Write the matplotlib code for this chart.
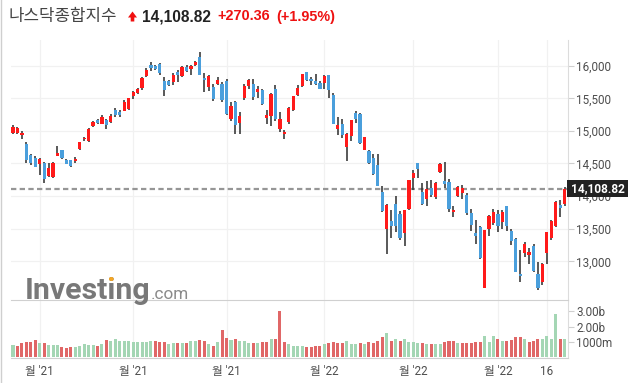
import matplotlib
matplotlib.use('Agg')
import matplotlib.pyplot as plt
from matplotlib.patches import Rectangle, Polygon
from matplotlib.lines import Line2D
from matplotlib.transforms import Bbox

# ---------------- data ----------------
opens = [14972, 14975, 14935, 14800, 14626, 14580, 14492, 14503, 14313, 14298,
         14620, 14707, 14547, 14547, 14543, 14727, 14871, 14850, 15075, 15167,
         15106, 15167, 15136, 15320, 15295, 15310, 15330, 15535, 15586, 15663,
         15842, 16011, 15992, 16026, 15765, 15765, 15755, 15903, 15847, 15980,
         15955, 16011, 16129, 15811, 15678, 15673, 15719, 15719, 15765, 15183,
         15443, 15126, 15509, 15693, 15719, 15597, 15627, 15202, 15229, 15643,
         15030, 14948, 15137, 15321, 15551, 15689, 15903, 15796, 15765, 15735,
         15735, 15857, 15551, 15029, 15106, 14758, 14926, 15270, 15259, 14712,
         14692, 14580, 14477, 14058, 13491, 13623, 13879, 13726, 13439, 13802,
         14282, 14508, 14068, 13956, 14124, 13986, 14374, 14232, 14216, 13761,
         14006, 14052, 14015, 13736, 13434, 13521, 12595, 13496, 13583, 13721,
         13607, 13849, 13465, 13337, 12810, 13123, 13097, 13240, 12805, 12687,
         13132, 13357, 13546, 13859, 13874]
highs = [15086, 15066, 14999, 14825, 14650, 14615, 14583, 14518, 14514, 14523,
         14764, 14710, 14570, 14560, 14600, 14834, 14910, 15040, 15150, 15180,
         15240, 15183, 15260, 15350, 15320, 15470, 15510, 15612, 15665, 15830,
         15960, 16053, 16018, 16040, 15827, 15780, 15890, 15930, 15990, 16010,
         16010, 16070, 16212, 15893, 15860, 15720, 15830, 15750, 15800, 15450,
         15463, 15285, 15720, 15800, 15800, 15684, 15650, 15320, 15581, 15700,
         15285, 15014, 15360, 15540, 15700, 15880, 15905, 15820, 15870, 15760,
         15850, 15857, 15580, 15214, 15183, 14960, 15170, 15305, 15280, 14910,
         14700, 14640, 14646, 14150, 13874, 13787, 14000, 13770, 13787, 14250,
         14400, 14510, 14200, 14230, 14250, 14220, 14500, 14523, 14260, 13850,
         14160, 14175, 14050, 13800, 13633, 13540, 13480, 13711, 13800, 13790,
         13790, 13850, 13490, 13350, 13173, 13300, 13204, 13260, 12990, 12970,
         13450, 13630, 13920, 13940, 14140]
lows = [14952, 14950, 14871, 14512, 14481, 14446, 14330, 14201, 14291, 14273,
        14610, 14569, 14485, 14440, 14500, 14712, 14850, 14835, 15060, 15110,
        15100, 15024, 15120, 15210, 15220, 15300, 15320, 15485, 15570, 15630,
        15830, 15914, 15935, 15850, 15535, 15695, 15700, 15745, 15830, 15905,
        15850, 15990, 15850, 15601, 15612, 15460, 15700, 15440, 15250, 15150,
        14953, 14952, 15480, 15640, 15480, 15505, 15390, 15101, 15075, 15150,
        14983, 14871, 15100, 15300, 15530, 15680, 15760, 15700, 15710, 15640,
        15650, 15505, 15100, 14938, 14887, 14543, 14850, 15121, 14800, 14700,
        14495, 14330, 14150, 13760, 13107, 13353, 13450, 13330, 13240, 13780,
        14094, 14270, 13860, 13850, 13990, 13950, 14360, 14129, 13760, 13680,
        13990, 13955, 13710, 13460, 13261, 13030, 12587, 13380, 13560, 13450,
        13500, 13470, 13250, 12830, 12678, 13060, 12954, 12830, 12555, 12640,
        12960, 13330, 13520, 13684, 13850]
closes = [15055, 15048, 14975, 14547, 14512, 14449, 14567, 14255, 14434, 14502,
          14654, 14580, 14486, 14466, 14572, 14823, 14897, 15022, 15129, 15122,
          15216, 15090, 15227, 15236, 15236, 15448, 15498, 15596, 15650, 15812,
          15940, 15972, 15955, 15887, 15623, 15704, 15861, 15854, 15974, 15922,
          15994, 16057, 15855, 15775, 15845, 15492, 15783, 15470, 15254, 15381,
          15090, 15225, 15687, 15787, 15525, 15635, 15417, 15240, 15566, 15183,
          15175, 14990, 15345, 15530, 15655, 15871, 15782, 15760, 15725, 15645,
          15840, 15623, 15106, 15085, 14940, 14945, 15160, 15188, 14810, 14900,
          14505, 14345, 14160, 13776, 13859, 13541, 13545, 13362, 13780, 14245,
          14355, 14418, 13884, 14105, 14017, 14198, 14490, 14190, 13795, 13790,
          14140, 14124, 13736, 13561, 13393, 13046, 13474, 13700, 13752, 13546,
          13757, 13546, 13316, 12840, 12770, 13260, 13143, 12856, 12595, 12959,
          13449, 13623, 13905, 13822, 14109]
volumes_b = [0.78, 0.72, 0.90, 1.00, 0.98, 1.12, 0.92, 0.95, 0.78, 0.78,
             0.78, 0.65, 0.62, 0.68, 0.65, 0.72, 0.85, 0.78, 0.78, 0.72,
             0.85, 1.12, 1.08, 1.18, 1.08, 1.08, 1.08, 1.00, 1.00, 1.00,
             1.00, 1.05, 1.05, 1.00, 1.00, 0.88, 0.95, 0.92, 0.95, 0.92,
             1.05, 1.05, 1.10, 1.05, 0.85, 0.75, 0.98, 1.75, 1.25, 1.10,
             1.20, 1.08, 1.08, 0.95, 0.90, 0.90, 1.00, 1.00, 1.20, 1.15,
             3.00, 1.00, 0.85, 0.75, 0.70, 0.72, 0.65, 0.65, 0.70, 0.70,
             0.85, 0.95, 1.00, 0.95, 0.90, 1.05, 0.88, 0.85, 0.90, 0.85,
             0.98, 0.90, 1.05, 1.30, 1.55, 1.08, 1.18, 1.08, 1.15, 0.98,
             1.00, 0.92, 0.95, 0.88, 0.85, 0.85, 0.88, 1.00, 1.05, 1.05,
             0.95, 0.90, 0.90, 0.95, 1.00, 1.00, 1.35, 1.00, 1.35, 1.20,
             1.05, 1.05, 1.10, 1.30, 1.30, 1.15, 0.98, 1.05, 1.15, 1.15,
             1.40, 1.15, 2.85, 1.15, 1.15]
prev_close = 14897
last_price = 14108.82
tick_idx = [6, 27, 48, 70, 90, 109, 120]
tick_labels = ["월 '21", "월 '21", "월 '21", "월 '22", "월 '22", "월 '22", "16"]
price_ticks = [13000, 13500, 14000, 14500, 15000, 15500, 16000]
vol_ticks = [1.0, 2.0, 3.0]
vol_tick_labels = ["1000m", "2.00b", "3.00b"]

# ---------------- layout ----------------
W, H = 633, 383
fig = plt.figure(figsize=(W / 100, H / 100), dpi=100)
fig.patch.set_facecolor('white')


def fx(x):
    return x / W


def fy(y):
    return 1 - y / H


L, R = 11, 568
axp = fig.add_axes([fx(L), fy(300), (R - L) / W, 260 / H])
axv = fig.add_axes([fx(L), fy(358), (R - L) / W, 58 / H])

n = len(closes)
xs = list(range(n))
xlim = (-0.45, 124.75)

RED = '#ff1a1a'
BLUE = '#4a9fdc'
WICK = '#2b2b2b'
GRID = '#f1f1f1'
TXT = '#4d4d4d'
tick_font = ['Roboto', 'Noto Sans CJK KR', 'DejaVu Sans']

# price panel
for i in xs:
    axp.vlines(i, lows[i], highs[i], color=WICK, lw=1.1, zorder=2)
body_bottom = [min(o, c) for o, c in zip(opens, closes)]
body_h = [max(abs(c - o), 18) for o, c in zip(opens, closes)]
body_col = [RED if c >= o else BLUE for o, c in zip(opens, closes)]
axp.bar(xs, body_h, bottom=body_bottom, width=0.72, color=body_col, zorder=3, linewidth=0)

axp.set_xlim(*xlim)
axp.set_ylim(12406, 16394)
axp.set_yticks(price_ticks)
axp.set_yticklabels([f"{v:,}" for v in price_ticks])
axp.yaxis.tick_right()
axp.tick_params(axis='y', length=4, width=0.8, color='#cfcfcf', pad=2,
                labelsize=8.4, labelcolor=TXT)
for lab in axp.get_yticklabels():
    lab.set_family(tick_font)
axp.set_xticks(tick_idx)
axp.tick_params(axis='x', length=0, labelbottom=False)
axp.grid(True, color=GRID, lw=0.9)
axp.set_axisbelow(True)
for s in ['left', 'top', 'bottom']:
    axp.spines[s].set_visible(False)
axp.spines['right'].set_color('#dcdcdc')
axp.axhline(last_price, color='#969696', lw=1.6, dashes=(2.4, 1.5), zorder=1.5)

# volume panel
vcol = []
pc = prev_close
for c in closes:
    vcol.append('#a4d6b4' if c >= pc else '#e06767')
    pc = c
axv.bar(xs, volumes_b, width=0.68, color=vcol, linewidth=0, zorder=2)
axv.set_xlim(*xlim)
axv.set_ylim(-0.07, 3.75)
axv.set_yticks(vol_ticks)
axv.set_yticklabels(vol_tick_labels)
axv.yaxis.tick_right()
axv.tick_params(axis='y', length=4, width=0.8, color='#cfcfcf', pad=2,
                labelsize=8.4, labelcolor=TXT)
axv.set_xticks(tick_idx)
axv.set_xticklabels(tick_labels)
axv.tick_params(axis='x', length=0, pad=5, labelsize=8.4, labelcolor=TXT)
for lab in axv.get_yticklabels() + axv.get_xticklabels():
    lab.set_family(tick_font)
axv.grid(True, axis='x', color=GRID, lw=0.9)
axv.set_axisbelow(True)
axv.spines['left'].set_visible(False)
axv.spines['top'].set_color('#d0d0d0')
axv.spines['bottom'].set_color('#d0d0d0')
axv.spines['right'].set_color('#dcdcdc')

# last price box
fig.patches.append(Rectangle((fx(567), fy(197)), 61 / W, 17 / H, transform=fig.transFigure,
                             facecolor='#222222', edgecolor='none', zorder=5))
fig.text(fx(597.5), fy(188.5), f"{last_price:,.2f}", color='white', fontsize=8.6,
         weight='bold', family=tick_font, ha='center', va='center', zorder=6)

# title
fig.text(fx(8), fy(16.5), "나스닥종합지수", fontsize=12.1, color='#444444',
         family=['Noto Sans CJK KR', 'DejaVu Sans'], va='center')
arrow = [(128, 17.5), (132.5, 11.5), (137, 17.5), (134.3, 17.5), (134.3, 21.5),
         (130.7, 21.5), (130.7, 17.5)]
fig.patches.append(Polygon([(fx(a), fy(b)) for a, b in arrow], closed=True,
                           transform=fig.transFigure, facecolor='#f01010', edgecolor='none'))
fig.text(fx(142), fy(16.5), "14,108.82", fontsize=11.2, weight='bold', color='#222222',
         family='Liberation Sans', va='center')
fig.text(fx(217), fy(16.5), "+270.36", fontsize=10.4, weight='bold', color='#ee1111',
         family='Liberation Sans', va='center')
fig.text(fx(276), fy(16.5), "(+1.95%)", fontsize=10.4, weight='bold', color='#ee1111',
         family='Liberation Sans', va='center')

# watermark logo
logo = fig.text(fx(25), fy(299), "Investing", fontsize=21.8, weight='bold', color='#787878',
                family='Roboto', va='baseline', ha='left', zorder=4)
fig.canvas.draw()
rend = fig.canvas.get_renderer()
bb = logo.get_window_extent(rend)
tmp1 = fig.text(fx(25), fy(299), "Invest", fontsize=21.8, weight='bold', family='Roboto',
                va='baseline', ha='left')
tmp2 = fig.text(fx(25), fy(299), "Investi", fontsize=21.8, weight='bold', family='Roboto',
                va='baseline', ha='left')
x1 = tmp1.get_window_extent(rend).x1
x2 = tmp2.get_window_extent(rend).x1
tmp1.remove()
tmp2.remove()
dot = fig.text(fx(25), fy(299), "Investi", fontsize=21.8, weight='bold', color='#f5a623',
               family='Roboto', va='baseline', ha='left', zorder=4.5)
base_y = (1 - 299 / H) * H
dot.set_clip_box(Bbox([[x1, base_y + 16.5], [x2 + 1, base_y + 40]]))
fig.text(bb.x1 / W + 0.5 / W, fy(299), ".com", fontsize=12.3, color='#8a8a8a',
         family='Roboto', va='baseline', ha='left', zorder=4)

# left border
fig.add_artist(Line2D([0.5 / W, 0.5 / W], [0, 1], transform=fig.transFigure,
                      color='#cfcfcf', lw=1))

fig.savefig('out.png', dpi=100)
